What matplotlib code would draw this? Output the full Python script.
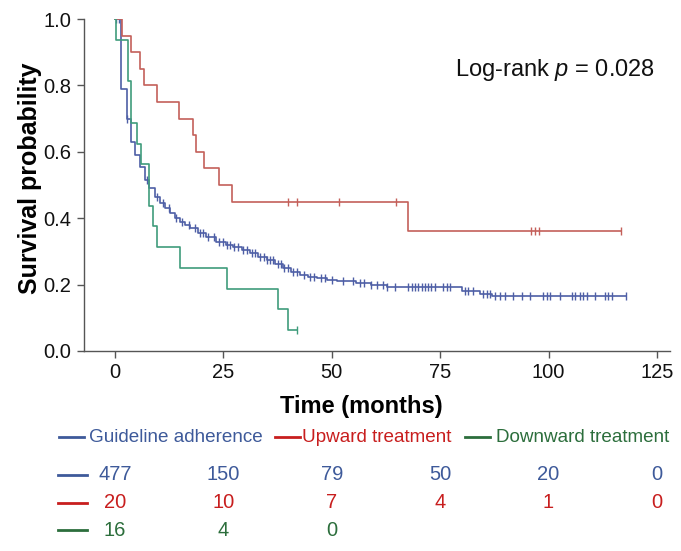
import numpy as np
import matplotlib
matplotlib.use('Agg')
import matplotlib.pyplot as plt
from matplotlib.lines import Line2D
from matplotlib import transforms

plt.rcParams['font.family'] = ['Liberation Sans', 'DejaVu Sans']
plt.rcParams['mathtext.fontset'] = 'custom'
plt.rcParams['mathtext.it'] = 'Liberation Sans:italic'
plt.rcParams['mathtext.rm'] = 'Liberation Sans'

# Kaplan-Meier steps (time in months, survival)
guide_t = [0, 1.5, 2.7, 3.6, 4.6, 5.8, 6.9, 7.9, 9.2, 10.4, 11.6, 12.7, 13.8,
           15.0, 16.2, 17.3, 19.2, 21.0, 23.4, 25.5, 27.3, 29.2, 31.1, 33.0,
           35.0, 36.8, 38.8, 40.7, 42.7, 44.6, 46.5, 48.8, 51.1, 55.7, 59.0,
           62.7, 80.0, 84.2, 86.9]
guide_s = [1.0, 0.79, 0.70, 0.63, 0.59, 0.555, 0.515, 0.49, 0.465, 0.445,
           0.43, 0.415, 0.40, 0.39, 0.38, 0.37, 0.354, 0.342, 0.329, 0.32,
           0.312, 0.303, 0.294, 0.284, 0.274, 0.262, 0.249, 0.239, 0.229,
           0.224, 0.219, 0.215, 0.211, 0.206, 0.200, 0.194, 0.181, 0.171,
           0.165]
guide_cens = [0.3, 1.0, 2.7, 7.5, 9.8, 11.0, 12.5, 14.0, 15.5, 17.0, 18.5,
              19.5, 20.2, 21.5, 22.8, 24.0, 25.0, 25.8, 26.5, 27.5, 28.3,
              29.5, 30.5, 31.5, 32.3, 33.5, 34.3, 35.0, 35.8, 36.5, 37.5,
              38.3, 39.0, 40.0, 41.0, 42.0, 43.5, 45.0, 46.0, 47.5, 48.5,
              50.0, 52.5, 55.0, 56.5, 57.5, 59.0, 60.5, 61.9, 62.7, 64.6,
              67.6, 68.4, 69.2, 69.9, 70.7, 71.5, 72.3, 73.0, 73.8, 75.7,
              76.5, 77.3, 80.7, 81.5, 82.6, 84.9, 85.7, 86.5, 87.6, 88.8,
              89.9, 91.9, 93.8, 95.7, 98.8, 99.6, 100.3, 102.6, 105.3, 106.1,
              107.3, 108.0, 108.8, 110.7, 113.0, 113.8, 114.6, 117.9]

up_t = [0, 1.7, 3.7, 5.8, 6.8, 9.8, 14.8, 18.0, 18.8, 20.6, 23.9, 27.0, 67.6]
up_s = [1.0, 0.95, 0.90, 0.85, 0.80, 0.75, 0.70, 0.65, 0.60, 0.55, 0.50,
        0.45, 0.36]
up_cens = [39.8, 41.9, 51.7, 64.8, 95.9, 96.9, 97.9, 116.8]

down_t = [0, 0.2, 2.9, 3.8, 5.0, 5.9, 7.9, 8.7, 9.6, 15.0, 25.9, 37.5, 39.8]
down_s = [1.0, 0.9375, 0.8125, 0.6875, 0.625, 0.5625, 0.4375, 0.375, 0.3125,
          0.25, 0.1875, 0.125, 0.0625]
down_cens = [41.9]

risk_times = [0, 25, 50, 75, 100, 125]
risk_guide = [477, 150, 79, 50, 20, 0]
risk_up = [20, 10, 7, 4, 1, 0]
risk_down = [16, 4, 0]

labels = ['Guideline adherence', 'Upward treatment', 'Downward treatment']
curve_colors = ['#4e5fa6', '#c4605a', '#3f9c7c']
text_colors = ['#3e5a9a', '#c81e1e', '#2c6e3c']

fig = plt.figure(figsize=(6.81, 5.51), dpi=100)
ax = fig.add_axes([0.1233, 0.3630, 0.8605, 0.6025])

groups = [(guide_t, guide_s, guide_cens), (up_t, up_s, up_cens),
          (down_t, down_s, down_cens)]
for (t, s, c), col in zip(groups, curve_colors):
    t = np.asarray(t)
    s = np.asarray(s)
    c = np.asarray(c)
    tt = np.append(t, c.max())
    ss = np.append(s, s[-1])
    ax.step(tt, ss, where='post', color=col, lw=1.2)
    idx = np.searchsorted(t, c, side='right') - 1
    ax.plot(c, s[idx], ls='none', marker='|', ms=6, mew=1.0, color=col)

ax.set_xlim(-7.15, 128)
ax.set_ylim(0, 1.0)
ax.set_xticks([0, 25, 50, 75, 100, 125])
ax.set_yticks([0, 0.2, 0.4, 0.6, 0.8, 1.0])
ax.set_yticklabels(['0.0', '0.2', '0.4', '0.6', '0.8', '1.0'])
for side in ['top', 'right']:
    ax.spines[side].set_visible(False)
for side in ['left', 'bottom']:
    ax.spines[side].set_color('#555555')
    ax.spines[side].set_linewidth(1.0)
ax.tick_params(direction='out', length=5, width=1.0, color='#555555',
               labelsize=14.5, labelcolor='#111111', pad=4)

ax.text(0.633, 0.846, 'Log-rank $p$ = 0.028', transform=ax.transAxes,
        fontsize=17, ha='left', va='center', color='#111111')

fig.text(0.044, 0.676, 'Survival probability', rotation=90, ha='center',
         va='center', fontsize=18, fontweight='bold')
trans = transforms.blended_transform_factory(ax.transData, fig.transFigure)
fig.text(56.8, 1 - 407 / 551, 'Time (months)', transform=trans, ha='center',
         va='center', fontsize=17, fontweight='bold')

# legend row
leg_y = 1 - 437 / 551
leg_x = [(59, 89), (275, 302), (465, 496)]
for (x0, x1), lab, tc in zip(leg_x, labels, text_colors):
    fig.add_artist(Line2D([x0 / 681, (x0 + 25) / 681], [leg_y, leg_y],
                          transform=fig.transFigure, color=tc, lw=2.0))
    fig.text(x1 / 681, leg_y, lab, ha='left', va='center', fontsize=13.6,
             color=tc)

# number at risk table
row_y = [1 - 475 / 551, 1 - 503 / 551, 1 - 530 / 551]
for risks, y, tc in zip([risk_guide, risk_up, risk_down], row_y, text_colors):
    fig.add_artist(Line2D([58 / 681, 87 / 681], [y, y],
                          transform=fig.transFigure, color=tc, lw=2.0))
    for xt, n in zip(risk_times, risks):
        fig.text(xt, y, str(n), transform=trans, ha='center', va='center',
                 fontsize=14.5, color=tc)

fig.savefig('out.png', dpi=100)
